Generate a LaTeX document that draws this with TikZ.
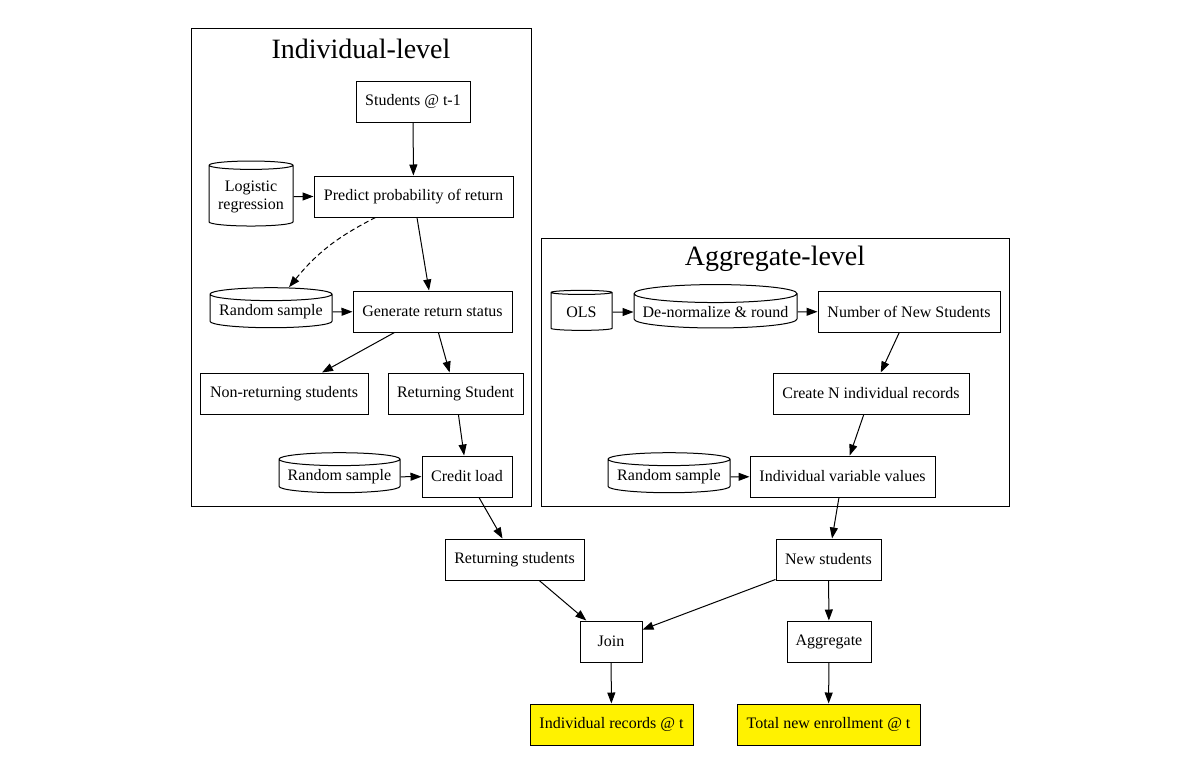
\documentclass[tikz,border=0pt]{standalone}
\usepackage{fontspec}
\setmainfont{Liberation Serif}
\usetikzlibrary{shapes.geometric,arrows.meta}
\tikzset{
  proc/.style={draw,line width=1pt,rectangle,minimum height=41pt,inner xsep=2pt,
    font=\fontsize{16}{18}\selectfont},
  store/.style={draw,line width=1pt,cylinder,shape border rotate=90,aspect=0.12,
    minimum height=40pt,inner xsep=2pt,font=\fontsize{16}{18}\selectfont,align=center},
  result/.style={proc,fill=yellow},
  flow/.style={-{Triangle[length=11pt,width=8pt]},line width=1pt},
  grp/.style={line width=1pt},
  grptitle/.style={font=\fontsize{28}{32}\selectfont}
}
\begin{document}
\begin{tikzpicture}[x=1pt,y=-1pt]
\useasboundingbox (0,0) rectangle (1198,763);
% clusters
\draw[grp] (191,28) rectangle (531,506);
\node[grptitle] (indtitle) at (361,49) {Individual-level};
\draw[grp] (541,238) rectangle (1009,506);
\node[grptitle] (aggtitle) at (775,259) {Aggregate-level};
% individual-level
\node[proc,minimum width=114pt] (prev) at (413,101.5) {Students @ t-1};
\node[store,minimum height=65pt,minimum width=84pt] (logit) at (251,196.5) {Logistic\\regression};
\node[proc,minimum width=199pt] (predict) at (413.5,196.5) {Predict probability of return};
\node[store,minimum width=122pt] (sampA) at (271,312) {Random sample};
\node[proc,minimum width=159pt] (gen) at (432.5,311.5) {Generate return status};
\node[proc,minimum width=168pt] (nonret) at (284,393.5) {Non-returning students};
\node[proc,minimum width=135pt] (retone) at (455.5,393.5) {Returning Student};
\node[store,minimum width=121pt] (sampB) at (339.5,477) {Random sample};
\node[proc,minimum width=90pt] (credit) at (467,476.5) {Credit load};
% aggregate-level
\node[store,minimum width=61pt] (ols) at (581.5,312) {OLS};
\node[store,minimum width=163pt] (denorm) at (715.5,312) {De-normalize \& round};
\node[proc,minimum width=182pt] (numnew) at (909,311.5) {Number of New Students};
\node[proc,minimum width=196pt] (create) at (871,393.5) {Create N individual records};
\node[store,minimum width=122pt] (sampC) at (669,477) {Random sample};
\node[proc,minimum width=185pt] (indvals) at (842.5,476.5) {Individual variable values};
% outputs
\node[proc,minimum width=139pt] (retstud) at (514.5,559.5) {Returning students};
\node[proc,minimum width=105pt] (newstud) at (828.5,559.5) {New students};
\node[proc,minimum width=62pt] (join) at (611,641.5) {Join};
\node[proc,minimum width=84pt] (agg) at (829,641.5) {Aggregate};
\node[result,minimum width=163pt] (indrec) at (611.5,724.5) {Individual records @ t};
\node[result,minimum width=183pt] (total) at (828.5,724.5) {Total new enrollment @ t};

\coordinate (dstart) at ([xshift=-38pt]predict.south);
\coordinate (dend) at ([xshift=18pt]sampA.north);

\draw[flow] (prev) -- (predict);
\draw[flow] (logit) -- (predict);
\draw[flow] (predict) -- (gen);
\draw[flow,dash pattern=on 5pt off 3pt] (dstart) to[bend right=12] (dend);
\draw[flow] (sampA) -- (gen);
\draw[flow] (gen) -- (nonret);
\draw[flow] (gen) -- (retone);
\draw[flow] (retone) -- (credit);
\draw[flow] (sampB) -- (credit);
\draw[flow] (ols) -- (denorm);
\draw[flow] (denorm) -- (numnew);
\draw[flow] (numnew) -- (create);
\draw[flow] (create) -- (indvals);
\draw[flow] (sampC) -- (indvals);
\draw[flow] (credit) -- (retstud);
\draw[flow] (indvals) -- (newstud);
\draw[flow] (retstud) -- (join);
\draw[flow] (newstud) -- (join);
\draw[flow] (newstud) -- (agg);
\draw[flow] (join) -- (indrec);
\draw[flow] (agg) -- (total);
\end{tikzpicture}
\end{document}
